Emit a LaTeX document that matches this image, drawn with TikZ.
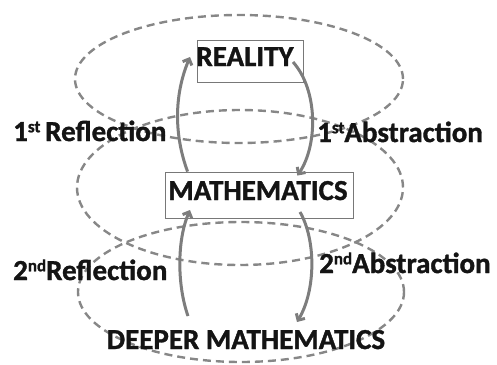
\documentclass[tikz,border=0pt]{standalone}
\usepackage{fontspec}
\setmainfont{Carlito}[BoldFeatures={FakeBold=1.2}]
\usetikzlibrary{arrows.meta}
\definecolor{ellgray}{RGB}{135,135,135}
\definecolor{arrgray}{RGB}{125,125,125}
\definecolor{boxgray}{RGB}{120,120,120}
\definecolor{txt}{RGB}{20,20,20}
\newcommand{\supx}[1]{\raisebox{0.62ex}{\fontsize{17}{17}\selectfont #1}}
\begin{document}
\begin{tikzpicture}[x=1pt,y=-1pt,
  ell/.style={draw=ellgray, line width=2.4pt, dash pattern=on 8pt off 5pt},
  boxframe/.style={draw=boxgray, line width=0.8pt, inner sep=0pt},
  lbl/.style={font=\fontsize{29}{32}\selectfont\bfseries, text=txt, inner sep=0pt},
  arr/.style={draw=arrgray, line width=3pt, -{Straight Barb[length=5pt,width=10pt]}}]
\useasboundingbox (0,0) rectangle (497,364);
% ellipses
\draw[ell] (239,79) ellipse [x radius=164pt, y radius=64pt];
\draw[ell] (240,187.5) ellipse [x radius=163pt, y radius=77.5pt];
\draw[ell] (241,292) ellipse [x radius=163pt, y radius=70pt];
% boxes
\node[boxframe, minimum width=106pt, minimum height=42pt] (rbox) at (250,61) {};
\node[boxframe, minimum width=188pt, minimum height=46pt] (mbox) at (259,195) {};
% main texts
\node[lbl, anchor=base] (real) at (245,66) {REALITY};
\node[lbl, anchor=base] (math) at (258,200) {MATHEMATICS};
\node[lbl, anchor=base] (deep) at (246,349) {DEEPER MATHEMATICS};
% side labels
\node[lbl, anchor=base west] (r1) at (13,141) {1\supx{st}\,Reflection};
\node[lbl, anchor=base west] (a1) at (317,142) {1\supx{st}Abstraction};
\node[lbl, anchor=base west] (r2) at (13,280) {2\supx{nd}Reflection};
\node[lbl, anchor=base west] (a2) at (319,273) {2\supx{nd}Abstraction};
% arrow end points
\coordinate (r1s) at ([xshift=23pt]mbox.north west);
\coordinate (r1e) at (190,57);
\coordinate (a1s) at (293,62);
\coordinate (a1e) at ([xshift=-56pt,yshift=-4pt]mbox.north east);
\coordinate (r2s) at (188,316);
\coordinate (r2e) at (190,210);
\coordinate (a2s) at (300,212);
\coordinate (a2e) at (297,322);
% arrows
\draw[arr] (r1s) .. controls (174,135) and (174,95) .. (r1e);
\draw[arr] (a1s) .. controls (318,90) and (318,145) .. (a1e);
\draw[arr] (r2s) .. controls (177,285) and (177,240) .. (r2e);
\draw[arr] (a2s) .. controls (316,240) and (316,290) .. (a2e);
\end{tikzpicture}
\end{document}
